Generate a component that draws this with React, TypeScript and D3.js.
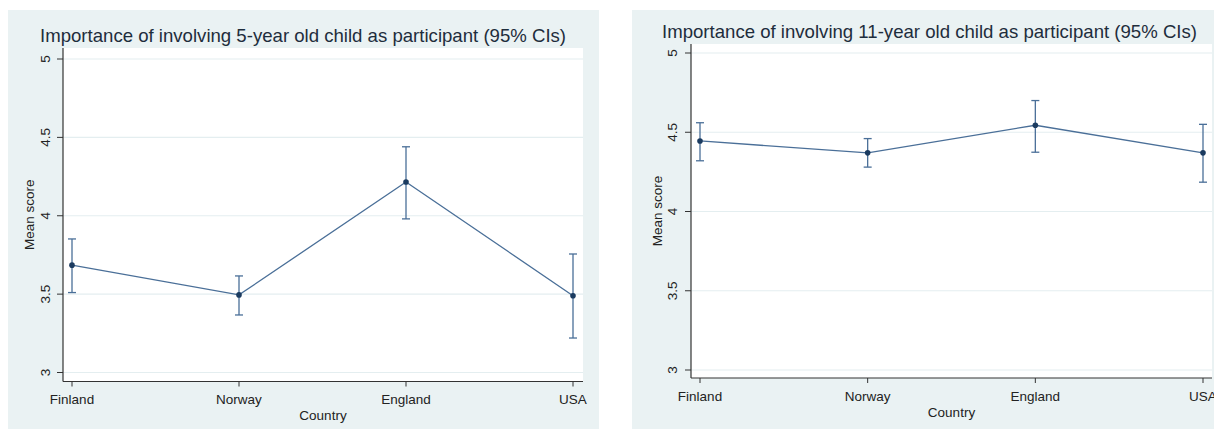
import React from "react";
import * as d3 from "d3";

const countries = ["Finland", "Norway", "England", "USA"];
const yTicks = [3, 3.5, 4, 4.5, 5];
const yTickLabels = ["3", "3.5", "4", "4.5", "5"];

const mean5 = [3.685, 3.495, 4.215, 3.49];
const lo5 = [3.51, 3.367, 3.98, 3.22];
const hi5 = [3.852, 3.616, 4.44, 3.756];

const mean11 = [4.445, 4.37, 4.544, 4.37];
const lo11 = [4.32, 4.28, 4.374, 4.185];
const hi11 = [4.56, 4.46, 4.70, 4.55];

const title5 = "Importance of involving 5-year old child as participant (95% CIs)";
const title11 = "Importance of involving 11-year old child as participant (95% CIs)";

const FONT = "Arial, 'Liberation Sans', sans-serif";
const LINE = "#4a6f98";
const DOT = "#1b3b60";
const BG = "#eaf2f3";

type PanelProps = {
  title: string;
  mean: number[];
  lo: number[];
  hi: number[];
  bg: [number, number, number, number];
  plot: [number, number, number, number];
  yRange: [number, number];
  xRange: [number, number];
  titleX: number;
  titleY: number;
  tickLabelX: number;
  yTitleX: number;
  xLabelY: number;
  xTitleY: number;
};

function Panel(p: PanelProps) {
  const y = d3.scaleLinear().domain([3, 5]).range(p.yRange);
  const x = d3.scalePoint<string>().domain(countries).range(p.xRange);
  const [px0, py0, px1, py1] = p.plot;
  const line = d3
    .line<number>()
    .x((_, i) => x(countries[i]) as number)
    .y((d) => y(d));
  const cy = (py0 + py1) / 2;
  return (
    <g>
      <rect x={p.bg[0]} y={p.bg[1]} width={p.bg[2] - p.bg[0]} height={p.bg[3] - p.bg[1]} fill={BG} />
      <rect x={px0} y={py0} width={px1 - px0} height={py1 - py0} fill="#ffffff" />
      {yTicks.map((t, i) => (
        <g key={t}>
          <line x1={px0} x2={px1} y1={y(t)} y2={y(t)} stroke="#e4eef0" strokeWidth={1.2} />
          <line x1={px0 - 6} x2={px0} y1={y(t)} y2={y(t)} stroke="#333" strokeWidth={1} />
          <text
            transform={`translate(${p.tickLabelX},${y(t)}) rotate(-90)`}
            textAnchor="middle"
            dy="0.35em"
            fontSize={13.5}
            fontFamily={FONT}
            fill="#222"
          >
            {yTickLabels[i]}
          </text>
        </g>
      ))}
      <line x1={px0} x2={px0} y1={py0} y2={py1} stroke="#333" strokeWidth={1.2} />
      <line x1={px0} x2={px1} y1={py1} y2={py1} stroke="#333" strokeWidth={1.2} />
      {countries.map((c) => (
        <g key={c}>
          <line x1={x(c)} x2={x(c)} y1={py1} y2={py1 + 5} stroke="#333" strokeWidth={1} />
          <text x={x(c)} y={p.xLabelY} textAnchor="middle" fontSize={13.5} fontFamily={FONT} fill="#222">
            {c}
          </text>
        </g>
      ))}
      <text x={(px0 + px1) / 2} y={p.xTitleY} textAnchor="middle" fontSize={13.5} fontFamily={FONT} fill="#222">
        Country
      </text>
      <text
        transform={`translate(${p.yTitleX},${cy}) rotate(-90)`}
        textAnchor="middle"
        dy="0.35em"
        fontSize={13.5}
        fontFamily={FONT}
        fill="#222"
      >
        Mean score
      </text>
      <text x={p.titleX} y={p.titleY} fontSize={18.6} fontFamily={FONT} fill="#1e2d3c">
        {p.title}
      </text>
      <path d={line(p.mean) || ""} fill="none" stroke={LINE} strokeWidth={1.3} />
      {countries.map((c, i) => {
        const cx = x(c) as number;
        return (
          <g key={c} stroke={LINE} strokeWidth={1.3}>
            <line x1={cx} x2={cx} y1={y(p.lo[i])} y2={y(p.hi[i])} />
            <line x1={cx - 4} x2={cx + 4} y1={y(p.lo[i])} y2={y(p.lo[i])} />
            <line x1={cx - 4} x2={cx + 4} y1={y(p.hi[i])} y2={y(p.hi[i])} />
          </g>
        );
      })}
      {countries.map((c, i) => (
        <circle key={c} cx={x(c)} cy={y(p.mean[i])} r={2.8} fill={DOT} />
      ))}
    </g>
  );
}

export default function App() {
  return (
    <div style={{ position: "absolute", left: 0, top: 0 }}>
      <svg width={1214} height={429} style={{ display: "block" }}>
        <rect x={0} y={0} width={1214} height={429} fill="#ffffff" />
        <Panel
          title={title5}
          mean={mean5}
          lo={lo5}
          hi={hi5}
          bg={[8, 10, 599, 429]}
          plot={[63, 48, 583, 381.5]}
          yRange={[372.5, 59]}
          xRange={[72, 573]}
          titleX={40}
          titleY={42}
          tickLabelX={45}
          yTitleX={29}
          xLabelY={404}
          xTitleY={420}
        />
        <Panel
          title={title11}
          mean={mean11}
          lo={lo11}
          hi={hi11}
          bg={[632, 10, 1220, 429]}
          plot={[691, 44, 1212, 378]}
          yRange={[370, 53]}
          xRange={[700, 1203]}
          titleX={662}
          titleY={38}
          tickLabelX={672}
          yTitleX={657}
          xLabelY={401}
          xTitleY={417}
        />
      </svg>
    </div>
  );
}
